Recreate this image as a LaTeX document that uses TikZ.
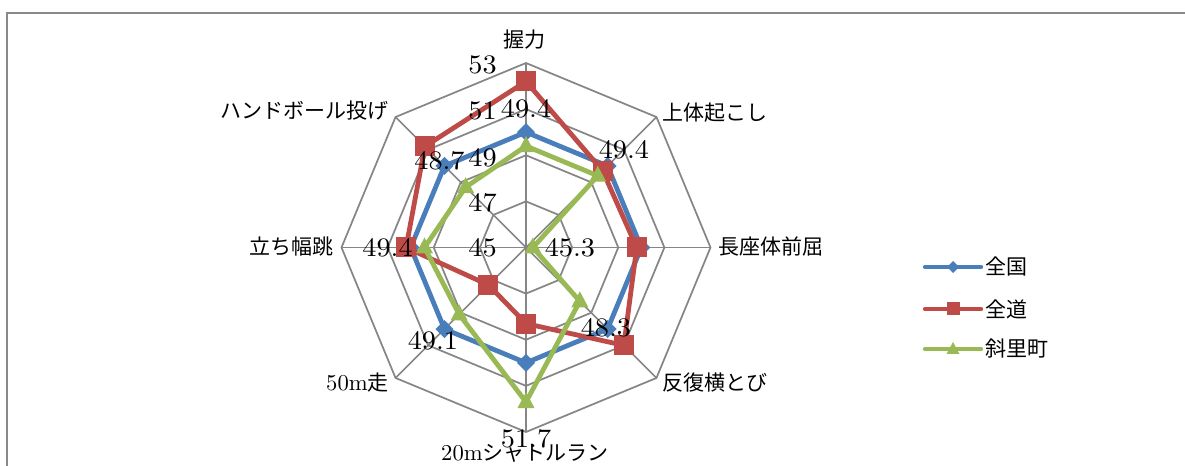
\documentclass[tikz,border=0pt]{standalone}
\usepackage{fontspec}
\newfontfamily\cjk{Noto Sans CJK JP}
\newfontfamily\numfont{lmroman10-regular.otf}
\newcommand\numtxt[1]{\scalebox{1.06}[1]{\numfont #1}}
\newcommand\lattxt[1]{{\fontsize{17}{19}\selectfont\numfont #1}}
\definecolor{serA}{HTML}{4A7EBB}
\definecolor{serB}{HTML}{BE4B48}
\definecolor{serC}{HTML}{98B954}
\definecolor{gridc}{HTML}{868686}
\definecolor{framec}{HTML}{898989}
\begin{document}
\begin{tikzpicture}[x=0.75pt,y=-0.75pt,
  radargrid/.style={draw=gridc,line width=1.3pt,line join=miter},
  series/.style={line width=3.6pt,line join=round,line cap=round},
  legline/.style={line width=3.3pt,line cap=round},
  catlabel/.style={font=\fontsize{15.75}{18}\selectfont,inner sep=0pt},
  numlabel/.style={font=\fontsize{20}{22}\selectfont,inner sep=0pt},
  frameline/.style={draw=framec,line width=1.5pt}]
\useasboundingbox (0,0) rectangle (1185,466);
\fill[white] (0,0) rectangle (1185,466);
\draw[frameline] (7,466) -- (7,13) -- (1185,13);
\begin{scope}[shift={(526,247.5)}]
  % grid
  \foreach \r in {46.125,92.25,138.375,184.5}
    \draw[radargrid] (0:\r) -- (45:\r) -- (90:\r) -- (135:\r) -- (180:\r) -- (225:\r) -- (270:\r) -- (315:\r) -- cycle;
  \foreach \a in {0,45,...,315}
    \draw[radargrid] (0,0) -- (\a:184.5);
  % data points
  \foreach \v [count=\i from 0] in {50,50,50,50,50,50,50,50}
    \coordinate (b\i) at ({sin(45*\i)*(\v-45)*23.0625},{-cos(45*\i)*(\v-45)*23.0625});
  \foreach \v [count=\i from 0] in {52.2,49.7,49.8,51.0,48.3,47.3,50.2,51.2}
    \coordinate (r\i) at ({sin(45*\i)*(\v-45)*23.0625},{-cos(45*\i)*(\v-45)*23.0625});
  \foreach \v [count=\i from 0] in {49.4,49.4,45.3,48.3,51.7,49.1,49.4,48.7}
    \coordinate (g\i) at ({sin(45*\i)*(\v-45)*23.0625},{-cos(45*\i)*(\v-45)*23.0625});
  % series 1
  \draw[series,draw=serA] (b0) -- (b1) -- (b2) -- (b3) -- (b4) -- (b5) -- (b6) -- (b7) -- cycle;
  \foreach \i in {0,...,7}
    \fill[serA] (b\i) +(0,-9) -- +(9,0) -- +(0,9) -- +(-9,0) -- cycle;
  % series 2
  \draw[series,draw=serB] (r0) -- (r1) -- (r2) -- (r3) -- (r4) -- (r5) -- (r6) -- (r7) -- cycle;
  \foreach \i in {0,...,7}
    \fill[serB] (r\i) +(-10,-10) rectangle +(10,10);
  % series 3
  \draw[series,draw=serC] (g0) -- (g1) -- (g2) -- (g3) -- (g4) -- (g5) -- (g6) -- (g7) -- cycle;
  \foreach \i in {0,...,7}
    \fill[serC] (g\i) +(0,-10) -- +(8.5,6) -- +(-8.5,6) -- cycle;
  % data labels
  \foreach \v [count=\i from 0] in {49.4,49.4,45.3,48.3,51.7,49.1,49.4,48.7}
    \node[numlabel] (d\i) at ({sin(45*\i)*((\v-45)*23.0625+37)},{-cos(45*\i)*((\v-45)*23.0625+37)}) {\numtxt{\v}};
\end{scope}
% axis value labels
\node[numlabel,anchor=east] (a53) at (497,65) {\numtxt{53}};
\node[numlabel,anchor=east] (a51) at (497,111) {\numtxt{51}};
\node[numlabel,anchor=east] (a49) at (497,158) {\numtxt{49}};
\node[numlabel,anchor=east] (a47) at (497,203) {\numtxt{47}};
\node[numlabel,anchor=east] (a45) at (497,248) {\numtxt{45}};
% category labels
\node[catlabel] (c0) at (524,40) {\cjk 握力};
\node[catlabel,anchor=west] (c1) at (662,113) {\cjk 上体起こし};
\node[catlabel,anchor=west] (c2) at (718,247) {\cjk 長座体前屈};
\node[catlabel,anchor=west] (c3) at (662,383) {\cjk 反復横とび};
\node[catlabel] (c4) at (525,453) {\lattxt{20m}{\cjk シャトルラン}};
\node[catlabel,anchor=east] (c5) at (389,383) {\lattxt{50m}{\cjk 走}};
\node[catlabel,anchor=east] (c6) at (334,247) {\cjk 立ち幅跳};
\node[catlabel,anchor=east] (c7) at (389,111) {\cjk ハンドボール投げ};
% legend
\coordinate (la1) at (925,267); \coordinate (lb1) at (981,267); \coordinate (lm1) at (953,267);
\coordinate (la2) at (925,309); \coordinate (lb2) at (981,309); \coordinate (lm2) at (953,309);
\coordinate (la3) at (925,349); \coordinate (lb3) at (981,349); \coordinate (lm3) at (953,349);
\draw[legline,draw=serA] (la1) -- (lb1);
\fill[serA] (lm1) +(0,-6) -- +(6,0) -- +(0,6) -- +(-6,0) -- cycle;
\draw[legline,draw=serB] (la2) -- (lb2);
\fill[serB] (lm2) +(-6.5,-6.5) rectangle +(6.5,6.5);
\draw[legline,draw=serC] (la3) -- (lb3);
\fill[serC] (lm3) +(0,-7) -- +(6.5,5) -- +(-6.5,5) -- cycle;
\node[catlabel,anchor=west] (t1) at (985,267) {\cjk 全国};
\node[catlabel,anchor=west] (t2) at (985,309) {\cjk 全道};
\node[catlabel,anchor=west] (t3) at (985,349) {\cjk 斜里町};
\end{tikzpicture}
\end{document}
